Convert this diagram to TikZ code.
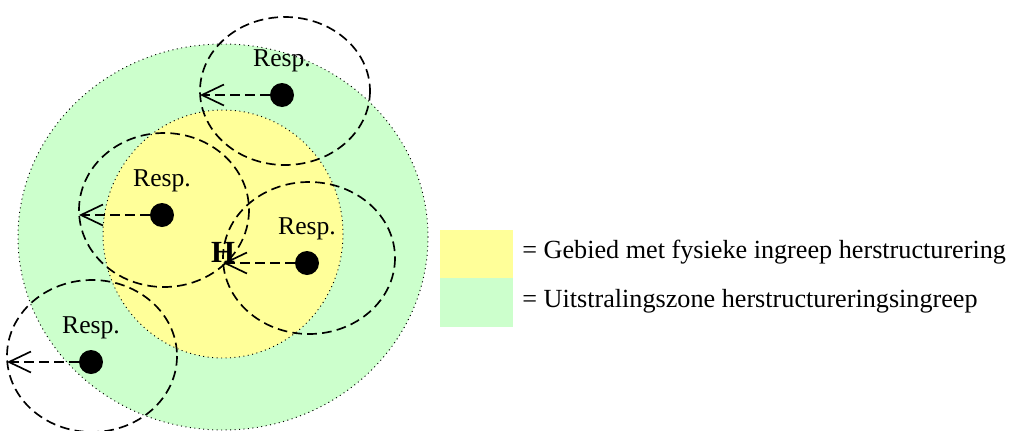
\documentclass[tikz,border=0pt]{standalone}
\usepackage{fontspec}
\setmainfont{Liberation Serif}
\usetikzlibrary{positioning,arrows.meta}
\definecolor{kerngeel}{RGB}{255,255,153}
\definecolor{zonegroen}{RGB}{204,255,204}
\tikzset{
	zone/.style={draw=black, dotted, line width=0.55pt},
	reach/.style={draw=black, dash pattern=on 5.5pt off 3pt, line width=0.95pt},
	respdot/.style={circle, fill=black, inner sep=0pt, minimum size=0.48cm},
	respline/.style={dash pattern=on 5.5pt off 3pt, line width=0.95pt, -{Straight Barb[length=0.44cm,width=0.42cm]}},
	resplabel/.style={inner sep=0pt, font=\fontsize{14.6}{17}\selectfont},
	legendbox/.style={anchor=north west, minimum width=1.46cm, inner sep=0pt, outer sep=0pt},
	legendtext/.style={anchor=base west, inner sep=0pt, font=\fontsize{14.9}{17}\selectfont}
}

\begin{document}
\begin{tikzpicture}[x=0.02cm,y=-0.02cm]
	\useasboundingbox (0,0) rectangle (1017,430);
	% zones
	\draw [zone, fill=zonegroen] (223,237) ellipse [x radius=205, y radius=193];
	\draw [zone, fill=kerngeel] (223,234) ellipse [x radius=120, y radius=124];
	% reach of each respondent
	\draw [reach] (285,91) ellipse [x radius=85, y radius=74];
	\draw [reach] (164,210) ellipse [x radius=85, y radius=77];
	\draw [reach] (309,258) ellipse [x radius=86, y radius=76];
	\draw [reach] (92,356) ellipse [x radius=85, y radius=76];
	
	\node (H) at (223,252) {\fontsize{17.5}{19}\selectfont\bfseries H};
	
	\node [respdot] (r1) at (282,95) {};
	\node [resplabel, above=0.2cm of r1] (l1) {Resp.};
	\coordinate (t1) at (200,95);
	\draw [respline] (r1) -- (t1);
	
	\node [respdot] (r2) at (162,215) {};
	\node [resplabel, above=0.2cm of r2] (l2) {Resp.};
	\coordinate (t2) at (79,215);
	\draw [respline] (r2) -- (t2);
	
	\node [respdot] (r3) at (307,263) {};
	\node [resplabel, above=0.2cm of r3] (l3) {Resp.};
	\coordinate (t3) at (223,263);
	\draw [respline] (r3) -- (t3);
	
	\node [respdot] (r4) at (91,362) {};
	\node [resplabel, above=0.2cm of r4] (l4) {Resp.};
	\coordinate (t4) at (7,362);
	\draw [respline] (r4) -- (t4);
	
	% legend
	\node [legendbox, fill=kerngeel, minimum height=0.96cm] (b1) at (440,230) {};
	\node [legendbox, fill=zonegroen, minimum height=0.98cm] (b2) at (b1.south west) {};
	\node [legendtext] (g1) at (522,258) {= Gebied met fysieke ingreep herstructurering};
	\node [legendtext] (g2) at (522,307) {= Uitstralingszone herstructureringsingreep};
\end{tikzpicture}
\end{document}
